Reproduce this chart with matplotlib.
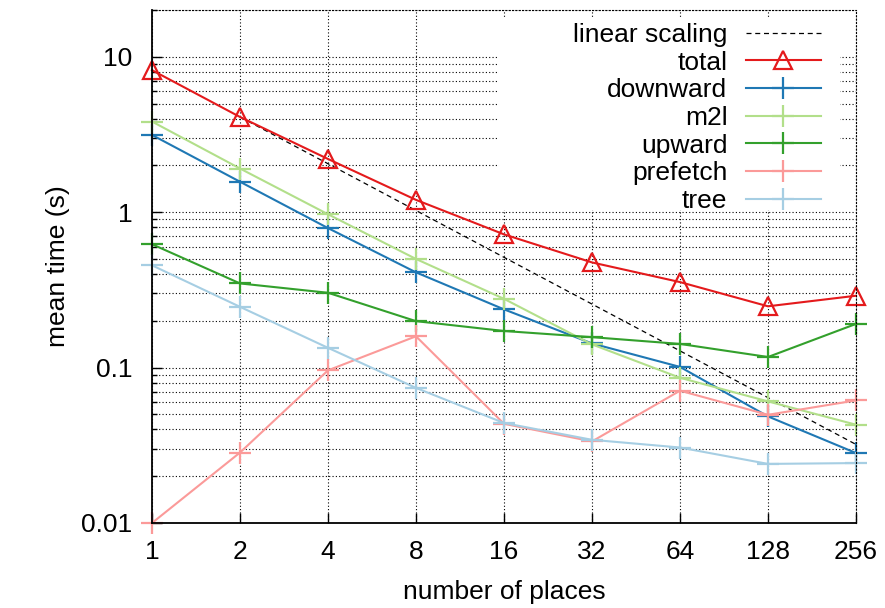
import matplotlib
matplotlib.use('Agg')
from matplotlib import pyplot as plt
from matplotlib.patches import Rectangle
from matplotlib.ticker import LogLocator, NullFormatter, FixedLocator, NullLocator
import numpy as np

plt.rcParams['font.family'] = ['Liberation Sans', 'DejaVu Sans']

places = [1, 2, 4, 8, 16, 32, 64, 128, 256]
total = [8.2, 4.1, 2.2, 1.2, 0.72, 0.475, 0.355, 0.248, 0.29]
downward = [3.14, 1.57, 0.79, 0.41, 0.237, 0.143, 0.101, 0.0485, 0.0282]
m2l = [3.83, 1.91, 0.97, 0.50, 0.277, 0.141, 0.086, 0.0606, 0.0429]
upward = [0.622, 0.348, 0.303, 0.199, 0.172, 0.157, 0.142, 0.117, 0.191]
prefetch = [0.01, 0.0284, 0.096, 0.159, 0.0435, 0.0335, 0.071, 0.0497, 0.0615]
tree = [0.455, 0.246, 0.134, 0.074, 0.044, 0.0343, 0.0306, 0.024, 0.0243]

# ideal scaling from the 2-place total
lin_x = places[1:]
lin_y = [total[1] * 2 / n for n in lin_x]

fs = 19
W, H = 885, 608

fig = plt.figure(figsize=(8.85, 6.08), dpi=100)
ax = fig.add_axes([152/W, 1 - 523/H, (856-152)/W, (523-10)/H])

ax.plot(lin_x, lin_y, color='black', lw=0.9, ls=(0, (4, 3)), label='linear scaling')
ax.plot(places, total, color='#e41a1c', lw=1.5, marker='^', ms=13, mfc='none', mew=1.6, label='total', clip_on=False)
ax.plot(places, downward, color='#1f78b4', lw=1.5, marker='+', ms=16, mew=1.6, label='downward', clip_on=False)
ax.plot(places, m2l, color='#b2df8a', lw=1.5, marker='+', ms=16, mew=1.6, label='m2l', clip_on=False)
ax.plot(places, upward, color='#33a02c', lw=1.5, marker='+', ms=16, mew=1.6, label='upward', clip_on=False)
ax.plot(places, prefetch, color='#fb9a99', lw=1.5, marker='+', ms=16, mew=1.6, label='prefetch', clip_on=False)
ax.plot(places, tree, color='#a6cee3', lw=1.5, marker='+', ms=16, mew=1.6, label='tree', clip_on=False)

ax.set_xscale('log', base=2)
ax.set_yscale('log')
ax.set_xlim(1, 256)
ax.set_ylim(0.01, 20)

ax.xaxis.set_major_locator(FixedLocator(places))
ax.set_xticklabels([str(p) for p in places])
ax.xaxis.set_minor_locator(NullLocator())

ax.yaxis.set_major_locator(FixedLocator([0.01, 0.1, 1, 10]))
ax.set_yticklabels(['0.01', '0.1', '1', '10'])
ax.yaxis.set_minor_locator(LogLocator(base=10, subs=np.arange(2, 10)))
ax.yaxis.set_minor_formatter(NullFormatter())

ax.tick_params(axis='both', which='major', direction='in', length=7, width=1, labelsize=fs)
ax.tick_params(axis='x', pad=12)
ax.tick_params(axis='y', pad=14)
ax.tick_params(axis='y', which='minor', direction='in', length=3.5, width=1)

ax.grid(True, which='both', axis='y', color='black', ls=(0, (1, 2)), lw=0.8)
ax.grid(True, which='major', axis='x', color='black', ls=(0, (1, 2)), lw=0.8)
ax.set_axisbelow(True)

for s in ['left', 'bottom']:
    ax.spines[s].set_linewidth(1.3)
for s in ['top', 'right']:
    ax.spines[s].set_linestyle((0, (1, 2)))
    ax.spines[s].set_linewidth(0.8)

ax.set_xlabel('number of places', fontsize=fs, labelpad=12)
ax.set_ylabel('mean time (s)', fontsize=fs, labelpad=8)

# blank key area hiding the grid, like gnuplot's opaque key
ax.add_patch(Rectangle((497/W, 1 - 210/H), (840-497)/W, (210-17)/H,
                       transform=fig.transFigure, facecolor='white',
                       edgecolor='none', zorder=1, clip_on=False))

leg = ax.legend(loc='upper right', bbox_to_anchor=(829/W, 1 - 15/H),
                bbox_transform=fig.transFigure, markerfirst=False, fontsize=fs,
                handlelength=2.85, handletextpad=0.7, labelspacing=0.14,
                borderpad=0.3, borderaxespad=0, frameon=False, numpoints=1)

plt.savefig('out.png', dpi=100)
